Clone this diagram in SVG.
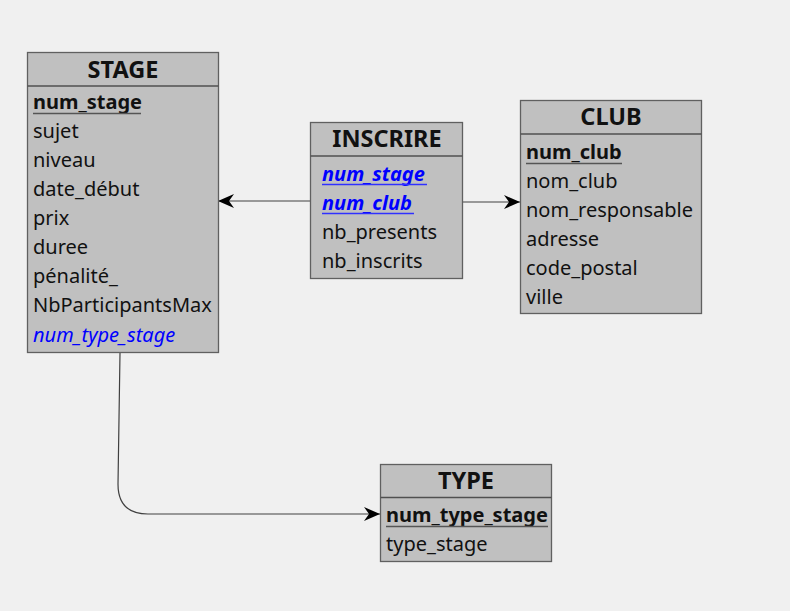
<svg xmlns="http://www.w3.org/2000/svg" width="790" height="611" viewBox="0 0 790 611">
<defs>
<style>
.box{fill:#c0c0c0;stroke:#606060;stroke-width:1.3}
.sep{stroke:#505050;stroke-width:1.3}
.t{font-family:"Noto Sans","Open Sans",sans-serif;font-size:20px;fill:#111}
.h{font-family:"Noto Sans","Open Sans",sans-serif;font-size:23.5px;font-weight:bold;fill:#111;text-anchor:middle}
.pk{font-weight:bold}
.fk{fill:#0000ff;font-style:italic}
.ul{stroke:#555;stroke-width:1.5}
.ulb{stroke:#3030ff;stroke-width:1.5}
.conn{fill:none;stroke:#404040;stroke-width:1.2}
</style>
<marker id="arr" viewBox="0 0 16 14" refX="16" refY="7" markerWidth="16" markerHeight="14" markerUnits="userSpaceOnUse" orient="auto">
<path d="M0,0 L16,7 L0,14 L5,7 Z" fill="#000"/>
</marker>
</defs>
<rect width="790" height="611" fill="#f0f0f0"/>
<g id="connectors">
<path class="conn" d="M310,201 L218,201" marker-end="url(#arr)"/>
<path class="conn" d="M463,202 L520,202" marker-end="url(#arr)"/>
<path class="conn" d="M120,353 L118,484 Q118,514 148,514 L380,514" marker-end="url(#arr)"/>
</g>
<g id="stage">
<rect class="box" x="27.5" y="52.5" width="191" height="300"/>
<line class="sep" x1="27.5" y1="86" x2="218.5" y2="86"/>
<text class="h" x="123" y="78">STAGE</text>
<text class="t pk" x="33" y="109">num_stage</text>
<line class="ul" x1="33" y1="113.5" x2="141" y2="113.5"/>
<text class="t" x="33" y="138">sujet</text>
<text class="t" x="33" y="167">niveau</text>
<text class="t" x="33" y="196">date_début</text>
<text class="t" x="33" y="225">prix</text>
<text class="t" x="33" y="254">duree</text>
<text class="t" x="33" y="283">pénalité_</text>
<text class="t" x="33" y="312">NbParticipantsMax</text>
<text class="t fk" x="33" y="342">num_type_stage</text>
</g>
<g id="inscrire">
<rect class="box" x="310.5" y="122.5" width="152" height="156"/>
<line class="sep" x1="310.5" y1="156" x2="462.5" y2="156"/>
<text class="h" x="387" y="147">INSCRIRE</text>
<text class="t pk fk" x="322" y="181">num_stage</text>
<line class="ulb" x1="322" y1="184.5" x2="427" y2="184.5"/>
<text class="t pk fk" x="322" y="210">num_club</text>
<line class="ulb" x1="322" y1="213.5" x2="414" y2="213.5"/>
<text class="t" x="322" y="239">nb_presents</text>
<text class="t" x="322" y="268">nb_inscrits</text>
</g>
<g id="club">
<rect class="box" x="520.5" y="100.5" width="181" height="213"/>
<line class="sep" x1="520.5" y1="134" x2="701.5" y2="134"/>
<text class="h" x="611" y="125">CLUB</text>
<text class="t pk" x="526" y="159">num_club</text>
<line class="ul" x1="526" y1="163.5" x2="622" y2="163.5"/>
<text class="t" x="526" y="188">nom_club</text>
<text class="t" x="526" y="217">nom_responsable</text>
<text class="t" x="526" y="246">adresse</text>
<text class="t" x="526" y="275">code_postal</text>
<text class="t" x="526" y="304">ville</text>
</g>
<g id="type">
<rect class="box" x="380.5" y="464.5" width="171" height="97"/>
<line class="sep" x1="380.5" y1="497.5" x2="551.5" y2="497.5"/>
<text class="h" x="466" y="489">TYPE</text>
<text class="t pk" x="386" y="522">num_type_stage</text>
<line class="ul" x1="386" y1="526.5" x2="548" y2="526.5"/>
<text class="t" x="386" y="551">type_stage</text>
</g>
</svg>
